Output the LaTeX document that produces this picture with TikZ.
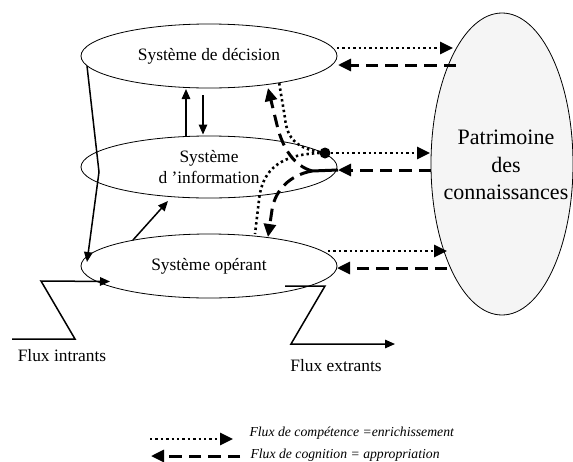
\documentclass[tikz,border=0pt]{standalone}
\usepackage{fontspec}
\setmainfont{Liberation Serif}
\usetikzlibrary{shapes.geometric,arrows.meta}
\tikzset{
  sysell/.style={ellipse, draw, line width=0.8pt, inner sep=0pt, minimum width=256pt,
    minimum height=64pt, align=center, font=\fontsize{17.4}{21}\selectfont},
  conn/.style={line width=1.5pt, -{Triangle[length=10pt,width=8.5pt]}},
  dotflow/.style={line width=2.6pt, dash pattern=on 2.4pt off 3pt, -{Triangle[length=13pt,width=12pt]}},
  dotline/.style={line width=2.6pt, dash pattern=on 2.4pt off 3pt},
  dashflow/.style={line width=3pt, dash pattern=on 12.5pt off 7pt, -{Triangle[length=13pt,width=12pt]}},
  dashline/.style={line width=3pt},
  lbl/.style={font=\fontsize{17.4}{21}\selectfont},
  leg/.style={font=\fontsize{13.7}{16}\selectfont\itshape, anchor=west},
}
\begin{document}
\begin{tikzpicture}[x=1pt,y=-1pt]
\useasboundingbox (0,0) rectangle (573,461);
% knowledge patrimony
\node[ellipse, draw, line width=0.8pt, fill=black!4, inner sep=0pt, minimum width=142pt, minimum height=302pt] (pat) at (502,164) {};
\node[align=center, font=\fontsize{22}{27.5}\selectfont] (patlbl) at (506,165) {Patrimoine\\des\\connaissances};
% three systems
\node[sysell] (e1) at (209,56) {Système de décision};
\node[sysell, minimum height=62pt] (e2) at (209,167) {Système\\d ’information};
\node[sysell] (e3) at (209,266) {Système opérant};
% junction dot
\node[circle, fill, inner sep=0pt, minimum size=11pt] (dot) at (325,153) {};
% coordinates
\coordinate (ua) at (186,136.5);
\coordinate (ub) at (186,89);
\coordinate (da) at (203,95);
\coordinate (db) at (203,134.5);
\coordinate (l1) at (87,66);
\coordinate (l2) at (99,172);
\coordinate (l3) at (87,262);
\coordinate (oa) at (133,240);
\coordinate (ob) at (168,201);
\coordinate (i1) at (12,339);
\coordinate (i2) at (75,339);
\coordinate (i3) at (41,281);
\coordinate (i4) at (110,281.5);
\coordinate (x1) at (285,286);
\coordinate (x2) at (325,286);
\coordinate (x3) at (291,344);
\coordinate (x4) at (395,344);
\coordinate (r1a) at (337,48);
\coordinate (r1b) at (453,48);
\coordinate (r1c) at (456,65);
\coordinate (r1d) at (338,65);
\coordinate (r2b) at (430,153);
\coordinate (r2c) at (431,170);
\coordinate (r2d) at (338,170);
\coordinate (r3a) at (328,251);
\coordinate (r3b) at (447,251);
\coordinate (r3c) at (447,268);
\coordinate (r3d) at (337,268);
\coordinate (jn) at (312,171);
\coordinate (dtop) at (279,82);
\coordinate (dbot) at (255,234);
\coordinate (atop) at (268,88);
\coordinate (abot) at (268,237);
% vertical exchanges
\draw[conn] (ua) -- (ub);
\draw[conn] (da) -- (db);
\draw[conn] (l1) -- (l2) -- (l3);
\draw[conn] (oa) -- (ob);
% flux in / out
\draw[conn] (i1) -- (i2) -- (i3) -- (i4);
\draw[conn] (x1) -- (x2) -- (x3) -- (x4);
\node[lbl] (fin) at (62,356) {Flux intrants};
\node[lbl] (fout) at (336,366) {Flux extrants};
% rows to/from the patrimony
\draw[dotflow] (r1a) -- (r1b);
\draw[dashflow] (r1c) -- (r1d);
\draw[dotflow] (dot) -- (r2b);
\draw[dashflow] (r2c) -- (r2d);
\draw[dotflow] (r3a) -- (r3b);
\draw[dashflow] (r3c) -- (r3d);
% dotted branches from the dot
\draw[dotline] (dot.center) .. controls (298,149) and (287,140) .. (285,118) -- (dtop);
\draw[dotline] (dot.center) .. controls (283,153) and (262,168) .. (259,200) -- (dbot);
% dashed branches from the junction
\draw[dashline] (r2d) -- (jn);
\draw[dashflow] (jn) .. controls (295,166) and (283,150) .. (277,125) -- (atop);
\draw[dashflow] (jn) .. controls (290,175) and (275,190) .. (272,210) -- (abot);
% legend
\coordinate (g1) at (150,439);
\coordinate (g2) at (233,439);
\coordinate (g3) at (240,456);
\coordinate (g4) at (151,456);
\draw[dotflow] (g1) -- (g2);
\draw[dashflow] (g3) -- (g4);
\node[leg] (t1) at (246,433) {Flux de compétence =enrichissement};
\node[leg] (t2) at (247,455) {Flux de cognition = appropriation};
\end{tikzpicture}
\end{document}
